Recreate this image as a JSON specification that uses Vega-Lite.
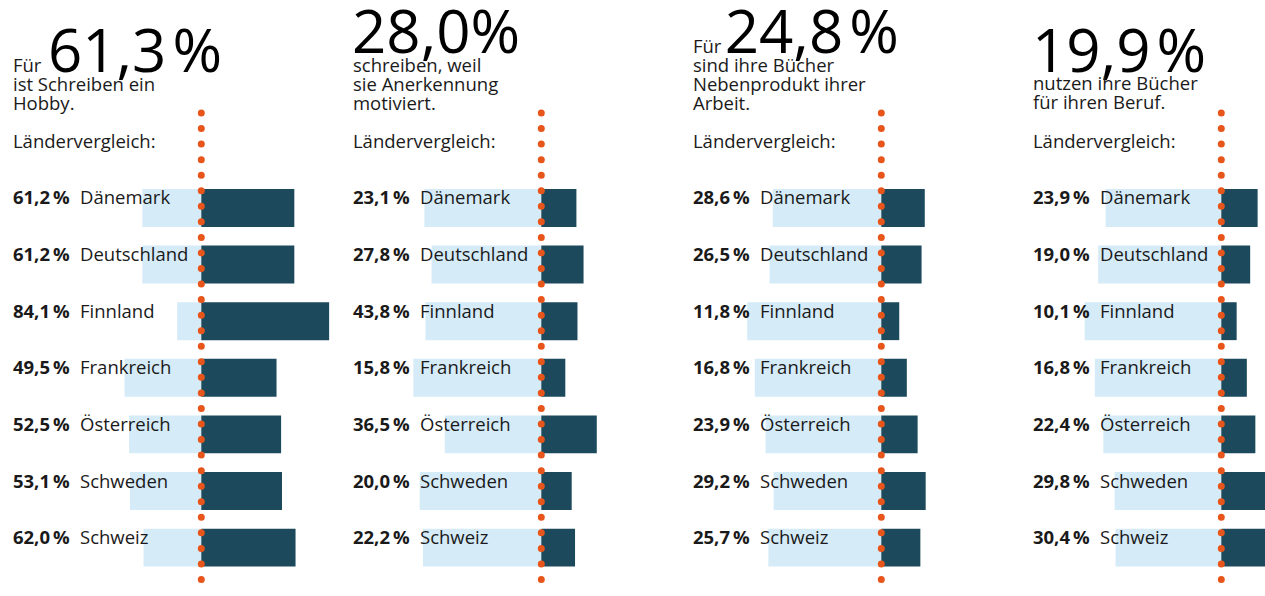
{
  "$schema": "https://vega.github.io/schema/vega-lite/v6.json",
  "background": "#ffffff",
  "padding": 0,
  "spacing": 0,
  "bounds": "flush",
  "config": {"view": {"stroke": null}, "font": "Open Sans"},
  "datasets": {
    "laender": [
      {"frage": "hobby", "land": "Dänemark", "wert": 61.2, "label": "61,2\u2009%"},
      {"frage": "hobby", "land": "Deutschland", "wert": 61.2, "label": "61,2\u2009%"},
      {"frage": "hobby", "land": "Finnland", "wert": 84.1, "label": "84,1\u2009%"},
      {"frage": "hobby", "land": "Frankreich", "wert": 49.5, "label": "49,5\u2009%"},
      {"frage": "hobby", "land": "Österreich", "wert": 52.5, "label": "52,5\u2009%"},
      {"frage": "hobby", "land": "Schweden", "wert": 53.1, "label": "53,1\u2009%"},
      {"frage": "hobby", "land": "Schweiz", "wert": 62.0, "label": "62,0\u2009%"},
      {"frage": "anerkennung", "land": "Dänemark", "wert": 23.1, "label": "23,1\u2009%"},
      {"frage": "anerkennung", "land": "Deutschland", "wert": 27.8, "label": "27,8\u2009%"},
      {"frage": "anerkennung", "land": "Finnland", "wert": 23.8, "label": "43,8\u2009%"},
      {"frage": "anerkennung", "land": "Frankreich", "wert": 15.8, "label": "15,8\u2009%"},
      {"frage": "anerkennung", "land": "Österreich", "wert": 36.5, "label": "36,5\u2009%"},
      {"frage": "anerkennung", "land": "Schweden", "wert": 20.0, "label": "20,0\u2009%"},
      {"frage": "anerkennung", "land": "Schweiz", "wert": 22.2, "label": "22,2\u2009%"},
      {"frage": "nebenprodukt", "land": "Dänemark", "wert": 28.6, "label": "28,6\u2009%"},
      {"frage": "nebenprodukt", "land": "Deutschland", "wert": 26.5, "label": "26,5\u2009%"},
      {"frage": "nebenprodukt", "land": "Finnland", "wert": 11.8, "label": "11,8\u2009%"},
      {"frage": "nebenprodukt", "land": "Frankreich", "wert": 16.8, "label": "16,8\u2009%"},
      {"frage": "nebenprodukt", "land": "Österreich", "wert": 23.9, "label": "23,9\u2009%"},
      {"frage": "nebenprodukt", "land": "Schweden", "wert": 29.2, "label": "29,2\u2009%"},
      {"frage": "nebenprodukt", "land": "Schweiz", "wert": 25.7, "label": "25,7\u2009%"},
      {"frage": "beruf", "land": "Dänemark", "wert": 23.9, "label": "23,9\u2009%"},
      {"frage": "beruf", "land": "Deutschland", "wert": 19.0, "label": "19,0\u2009%"},
      {"frage": "beruf", "land": "Finnland", "wert": 10.1, "label": "10,1\u2009%"},
      {"frage": "beruf", "land": "Frankreich", "wert": 16.8, "label": "16,8\u2009%"},
      {"frage": "beruf", "land": "Österreich", "wert": 22.4, "label": "22,4\u2009%"},
      {"frage": "beruf", "land": "Schweden", "wert": 29.8, "label": "29,8\u2009%"},
      {"frage": "beruf", "land": "Schweiz", "wert": 30.4, "label": "30,4\u2009%"}
    ],
    "kopf": [
      {"frage": "hobby", "zahl": "61,3\u200a%", "zeilen": ["Für", "ist Schreiben ein", "Hobby."], "vergleich": "Ländervergleich:"},
      {"frage": "anerkennung", "zahl": "28,0%", "zeilen": ["schreiben, weil", "sie Anerkennung", "motiviert."], "vergleich": "Ländervergleich:"},
      {"frage": "nebenprodukt", "zahl": "24,8\u200a%", "zeilen": ["Für", "sind ihre Bücher", "Nebenprodukt ihrer", "Arbeit."], "vergleich": "Ländervergleich:"},
      {"frage": "beruf", "zahl": "19,9\u200a%", "zeilen": ["nutzen ihre Bücher", "für ihren Beruf."], "vergleich": "Ländervergleich:"}
    ]
  },
  "hconcat": [
    {
      "width": 340, "height": 596,
      "resolve": {"scale": {"x": "independent", "y": "independent"}},
      "layer": [
        {
          "data": {"name": "laender"},
          "transform": [{"filter": "datum.frage === 'hobby'"}],
          "mark": {"type": "bar", "color": "#d5ebf8", "clip": true},
          "encoding": {
            "x": {"field": "wert", "type": "quantitative", "axis": null, "scale": {"domain": [-32.43, 191.25], "nice": false, "zero": false}},
            "x2": {"datum": 100},
            "y": {"field": "land", "type": "nominal", "sort": null, "axis": null, "scale": {"type": "band", "range": [189, 566.6], "paddingInner": 0.3306, "paddingOuter": 0}}
          }
        },
        {
          "data": {"name": "laender"},
          "transform": [{"filter": "datum.frage === 'hobby'"}],
          "mark": {"type": "bar", "color": "#1c4a5c", "clip": true},
          "encoding": {
            "x": {"field": "wert", "type": "quantitative", "axis": null, "scale": {"domain": [-132.43, 91.25], "nice": false, "zero": false}},
            "x2": {"datum": 0},
            "y": {"field": "land", "type": "nominal", "sort": null, "axis": null, "scale": {"type": "band", "range": [189, 566.6], "paddingInner": 0.3306, "paddingOuter": 0}}
          }
        },
        {
          "data": {"name": "laender"},
          "transform": [{"filter": "datum.frage === 'hobby'"}],
          "mark": {"type": "text", "align": "left", "baseline": "alphabetic", "dy": -3.5, "font": "Open Sans", "fontSize": 18.5, "fontWeight": 700, "color": "#1a1a1a"},
          "encoding": {
            "x": {"datum": -123.9, "type": "quantitative", "axis": null, "scale": {"domain": [-132.43, 91.25], "nice": false, "zero": false}},
            "y": {"field": "land", "type": "nominal", "sort": null, "axis": null, "scale": {"type": "band", "range": [189, 566.6], "paddingInner": 0.3306, "paddingOuter": 0}},
            "text": {"field": "label", "type": "nominal"}
          }
        },
        {
          "data": {"name": "laender"},
          "transform": [{"filter": "datum.frage === 'hobby'"}],
          "mark": {"type": "text", "align": "left", "baseline": "alphabetic", "dy": -3.5, "font": "Open Sans", "fontSize": 18.5, "fontWeight": 400, "color": "#1a1a1a"},
          "encoding": {
            "x": {"datum": -79.8, "type": "quantitative", "axis": null, "scale": {"domain": [-132.43, 91.25], "nice": false, "zero": false}},
            "y": {"field": "land", "type": "nominal", "sort": null, "axis": null, "scale": {"type": "band", "range": [189, 566.6], "paddingInner": 0.3306, "paddingOuter": 0}},
            "text": {"field": "land", "type": "nominal"}
          }
        },
        {
          "data": {"name": "kopf"},
          "transform": [{"filter": "datum.frage === 'hobby'"}],
          "mark": {"type": "text", "align": "left", "baseline": "alphabetic", "font": "Open Sans", "fontSize": 60, "color": "#000000"},
          "encoding": {
            "x": {"datum": -100.9, "type": "quantitative", "axis": null, "scale": {"domain": [-132.43, 91.25], "nice": false, "zero": false}},
            "y": {"datum": -2.066, "type": "quantitative", "axis": null, "scale": {"domain": [-3.338, 7.188], "reverse": true, "nice": false, "zero": false}},
            "text": {"field": "zahl", "type": "nominal"}
          }
        },
        {
          "data": {"name": "kopf"},
          "transform": [{"filter": "datum.frage === 'hobby'"}],
          "mark": {"type": "text", "align": "left", "baseline": "alphabetic", "font": "Open Sans", "fontSize": 18.5, "lineHeight": 19, "color": "#1a1a1a"},
          "encoding": {
            "x": {"datum": -123.9, "type": "quantitative", "axis": null, "scale": {"domain": [-132.43, 91.25], "nice": false, "zero": false}},
            "y": {"datum": -2.066, "type": "quantitative", "axis": null, "scale": {"domain": [-3.338, 7.188], "reverse": true, "nice": false, "zero": false}},
            "text": {"field": "zeilen", "type": "nominal"}
          }
        },
        {
          "data": {"name": "kopf"},
          "transform": [{"filter": "datum.frage === 'hobby'"}],
          "mark": {"type": "text", "align": "left", "baseline": "alphabetic", "font": "Open Sans", "fontSize": 18.5, "color": "#1a1a1a"},
          "encoding": {
            "x": {"datum": -123.9, "type": "quantitative", "axis": null, "scale": {"domain": [-132.43, 91.25], "nice": false, "zero": false}},
            "y": {"datum": -0.724, "type": "quantitative", "axis": null, "scale": {"domain": [-3.338, 7.188], "reverse": true, "nice": false, "zero": false}},
            "text": {"field": "vergleich", "type": "nominal"}
          }
        },
        {
          "data": {"name": "kopf"},
          "transform": [{"filter": "datum.frage === 'hobby'"}],
          "mark": {"type": "rule", "color": "#e8551b", "strokeWidth": 7, "strokeCap": "round", "strokeDash": [0, 15.55]},
          "encoding": {
            "x": {"datum": 0, "type": "quantitative", "axis": null, "scale": {"domain": [-132.43, 91.25], "nice": false, "zero": false}},
            "y": {"datum": -1.342, "type": "quantitative", "axis": null, "scale": {"domain": [-3.338, 7.188], "reverse": true, "nice": false, "zero": false}},
            "y2": {"datum": 7.012}
          }
        }
      ]
    },
    {
      "width": 340, "height": 596,
      "resolve": {"scale": {"x": "independent", "y": "independent"}},
      "layer": [
        {
          "data": {"name": "laender"},
          "transform": [{"filter": "datum.frage === 'anerkennung'"}],
          "mark": {"type": "bar", "color": "#d5ebf8", "clip": true},
          "encoding": {
            "x": {"field": "wert", "type": "quantitative", "axis": null, "scale": {"domain": [-32.43, 191.25], "nice": false, "zero": false}},
            "x2": {"datum": 100},
            "y": {"field": "land", "type": "nominal", "sort": null, "axis": null, "scale": {"type": "band", "range": [189, 566.6], "paddingInner": 0.3306, "paddingOuter": 0}}
          }
        },
        {
          "data": {"name": "laender"},
          "transform": [{"filter": "datum.frage === 'anerkennung'"}],
          "mark": {"type": "bar", "color": "#1c4a5c", "clip": true},
          "encoding": {
            "x": {"field": "wert", "type": "quantitative", "axis": null, "scale": {"domain": [-132.43, 91.25], "nice": false, "zero": false}},
            "x2": {"datum": 0},
            "y": {"field": "land", "type": "nominal", "sort": null, "axis": null, "scale": {"type": "band", "range": [189, 566.6], "paddingInner": 0.3306, "paddingOuter": 0}}
          }
        },
        {
          "data": {"name": "laender"},
          "transform": [{"filter": "datum.frage === 'anerkennung'"}],
          "mark": {"type": "text", "align": "left", "baseline": "alphabetic", "dy": -3.5, "font": "Open Sans", "fontSize": 18.5, "fontWeight": 700, "color": "#1a1a1a"},
          "encoding": {
            "x": {"datum": -123.9, "type": "quantitative", "axis": null, "scale": {"domain": [-132.43, 91.25], "nice": false, "zero": false}},
            "y": {"field": "land", "type": "nominal", "sort": null, "axis": null, "scale": {"type": "band", "range": [189, 566.6], "paddingInner": 0.3306, "paddingOuter": 0}},
            "text": {"field": "label", "type": "nominal"}
          }
        },
        {
          "data": {"name": "laender"},
          "transform": [{"filter": "datum.frage === 'anerkennung'"}],
          "mark": {"type": "text", "align": "left", "baseline": "alphabetic", "dy": -3.5, "font": "Open Sans", "fontSize": 18.5, "fontWeight": 400, "color": "#1a1a1a"},
          "encoding": {
            "x": {"datum": -79.8, "type": "quantitative", "axis": null, "scale": {"domain": [-132.43, 91.25], "nice": false, "zero": false}},
            "y": {"field": "land", "type": "nominal", "sort": null, "axis": null, "scale": {"type": "band", "range": [189, 566.6], "paddingInner": 0.3306, "paddingOuter": 0}},
            "text": {"field": "land", "type": "nominal"}
          }
        },
        {
          "data": {"name": "kopf"},
          "transform": [{"filter": "datum.frage === 'anerkennung'"}],
          "mark": {"type": "text", "align": "left", "baseline": "alphabetic", "font": "Open Sans", "fontSize": 60, "color": "#000000"},
          "encoding": {
            "x": {"datum": -124.5, "type": "quantitative", "axis": null, "scale": {"domain": [-132.43, 91.25], "nice": false, "zero": false}},
            "y": {"datum": -2.407, "type": "quantitative", "axis": null, "scale": {"domain": [-3.338, 7.188], "reverse": true, "nice": false, "zero": false}},
            "text": {"field": "zahl", "type": "nominal"}
          }
        },
        {
          "data": {"name": "kopf"},
          "transform": [{"filter": "datum.frage === 'anerkennung'"}],
          "mark": {"type": "text", "align": "left", "baseline": "alphabetic", "font": "Open Sans", "fontSize": 18.5, "lineHeight": 19, "color": "#1a1a1a"},
          "encoding": {
            "x": {"datum": -123.9, "type": "quantitative", "axis": null, "scale": {"domain": [-132.43, 91.25], "nice": false, "zero": false}},
            "y": {"datum": -2.066, "type": "quantitative", "axis": null, "scale": {"domain": [-3.338, 7.188], "reverse": true, "nice": false, "zero": false}},
            "text": {"field": "zeilen", "type": "nominal"}
          }
        },
        {
          "data": {"name": "kopf"},
          "transform": [{"filter": "datum.frage === 'anerkennung'"}],
          "mark": {"type": "text", "align": "left", "baseline": "alphabetic", "font": "Open Sans", "fontSize": 18.5, "color": "#1a1a1a"},
          "encoding": {
            "x": {"datum": -123.9, "type": "quantitative", "axis": null, "scale": {"domain": [-132.43, 91.25], "nice": false, "zero": false}},
            "y": {"datum": -0.724, "type": "quantitative", "axis": null, "scale": {"domain": [-3.338, 7.188], "reverse": true, "nice": false, "zero": false}},
            "text": {"field": "vergleich", "type": "nominal"}
          }
        },
        {
          "data": {"name": "kopf"},
          "transform": [{"filter": "datum.frage === 'anerkennung'"}],
          "mark": {"type": "rule", "color": "#e8551b", "strokeWidth": 7, "strokeCap": "round", "strokeDash": [0, 15.55]},
          "encoding": {
            "x": {"datum": 0, "type": "quantitative", "axis": null, "scale": {"domain": [-132.43, 91.25], "nice": false, "zero": false}},
            "y": {"datum": -1.342, "type": "quantitative", "axis": null, "scale": {"domain": [-3.338, 7.188], "reverse": true, "nice": false, "zero": false}},
            "y2": {"datum": 7.012}
          }
        }
      ]
    },
    {
      "width": 340, "height": 596,
      "resolve": {"scale": {"x": "independent", "y": "independent"}},
      "layer": [
        {
          "data": {"name": "laender"},
          "transform": [{"filter": "datum.frage === 'nebenprodukt'"}],
          "mark": {"type": "bar", "color": "#d5ebf8", "clip": true},
          "encoding": {
            "x": {"field": "wert", "type": "quantitative", "axis": null, "scale": {"domain": [-32.43, 191.25], "nice": false, "zero": false}},
            "x2": {"datum": 100},
            "y": {"field": "land", "type": "nominal", "sort": null, "axis": null, "scale": {"type": "band", "range": [189, 566.6], "paddingInner": 0.3306, "paddingOuter": 0}}
          }
        },
        {
          "data": {"name": "laender"},
          "transform": [{"filter": "datum.frage === 'nebenprodukt'"}],
          "mark": {"type": "bar", "color": "#1c4a5c", "clip": true},
          "encoding": {
            "x": {"field": "wert", "type": "quantitative", "axis": null, "scale": {"domain": [-132.43, 91.25], "nice": false, "zero": false}},
            "x2": {"datum": 0},
            "y": {"field": "land", "type": "nominal", "sort": null, "axis": null, "scale": {"type": "band", "range": [189, 566.6], "paddingInner": 0.3306, "paddingOuter": 0}}
          }
        },
        {
          "data": {"name": "laender"},
          "transform": [{"filter": "datum.frage === 'nebenprodukt'"}],
          "mark": {"type": "text", "align": "left", "baseline": "alphabetic", "dy": -3.5, "font": "Open Sans", "fontSize": 18.5, "fontWeight": 700, "color": "#1a1a1a"},
          "encoding": {
            "x": {"datum": -123.9, "type": "quantitative", "axis": null, "scale": {"domain": [-132.43, 91.25], "nice": false, "zero": false}},
            "y": {"field": "land", "type": "nominal", "sort": null, "axis": null, "scale": {"type": "band", "range": [189, 566.6], "paddingInner": 0.3306, "paddingOuter": 0}},
            "text": {"field": "label", "type": "nominal"}
          }
        },
        {
          "data": {"name": "laender"},
          "transform": [{"filter": "datum.frage === 'nebenprodukt'"}],
          "mark": {"type": "text", "align": "left", "baseline": "alphabetic", "dy": -3.5, "font": "Open Sans", "fontSize": 18.5, "fontWeight": 400, "color": "#1a1a1a"},
          "encoding": {
            "x": {"datum": -79.8, "type": "quantitative", "axis": null, "scale": {"domain": [-132.43, 91.25], "nice": false, "zero": false}},
            "y": {"field": "land", "type": "nominal", "sort": null, "axis": null, "scale": {"type": "band", "range": [189, 566.6], "paddingInner": 0.3306, "paddingOuter": 0}},
            "text": {"field": "land", "type": "nominal"}
          }
        },
        {
          "data": {"name": "kopf"},
          "transform": [{"filter": "datum.frage === 'nebenprodukt'"}],
          "mark": {"type": "text", "align": "left", "baseline": "alphabetic", "font": "Open Sans", "fontSize": 60, "color": "#000000"},
          "encoding": {
            "x": {"datum": -103, "type": "quantitative", "axis": null, "scale": {"domain": [-132.43, 91.25], "nice": false, "zero": false}},
            "y": {"datum": -2.407, "type": "quantitative", "axis": null, "scale": {"domain": [-3.338, 7.188], "reverse": true, "nice": false, "zero": false}},
            "text": {"field": "zahl", "type": "nominal"}
          }
        },
        {
          "data": {"name": "kopf"},
          "transform": [{"filter": "datum.frage === 'nebenprodukt'"}],
          "mark": {"type": "text", "align": "left", "baseline": "alphabetic", "font": "Open Sans", "fontSize": 18.5, "lineHeight": 19, "color": "#1a1a1a"},
          "encoding": {
            "x": {"datum": -123.9, "type": "quantitative", "axis": null, "scale": {"domain": [-132.43, 91.25], "nice": false, "zero": false}},
            "y": {"datum": -2.402, "type": "quantitative", "axis": null, "scale": {"domain": [-3.338, 7.188], "reverse": true, "nice": false, "zero": false}},
            "text": {"field": "zeilen", "type": "nominal"}
          }
        },
        {
          "data": {"name": "kopf"},
          "transform": [{"filter": "datum.frage === 'nebenprodukt'"}],
          "mark": {"type": "text", "align": "left", "baseline": "alphabetic", "font": "Open Sans", "fontSize": 18.5, "color": "#1a1a1a"},
          "encoding": {
            "x": {"datum": -123.9, "type": "quantitative", "axis": null, "scale": {"domain": [-132.43, 91.25], "nice": false, "zero": false}},
            "y": {"datum": -0.724, "type": "quantitative", "axis": null, "scale": {"domain": [-3.338, 7.188], "reverse": true, "nice": false, "zero": false}},
            "text": {"field": "vergleich", "type": "nominal"}
          }
        },
        {
          "data": {"name": "kopf"},
          "transform": [{"filter": "datum.frage === 'nebenprodukt'"}],
          "mark": {"type": "rule", "color": "#e8551b", "strokeWidth": 7, "strokeCap": "round", "strokeDash": [0, 15.55]},
          "encoding": {
            "x": {"datum": 0, "type": "quantitative", "axis": null, "scale": {"domain": [-132.43, 91.25], "nice": false, "zero": false}},
            "y": {"datum": -1.342, "type": "quantitative", "axis": null, "scale": {"domain": [-3.338, 7.188], "reverse": true, "nice": false, "zero": false}},
            "y2": {"datum": 7.012}
          }
        }
      ]
    },
    {
      "width": 245, "height": 596,
      "resolve": {"scale": {"x": "independent", "y": "independent"}},
      "layer": [
        {
          "data": {"name": "laender"},
          "transform": [{"filter": "datum.frage === 'beruf'"}],
          "mark": {"type": "bar", "color": "#d5ebf8", "clip": true},
          "encoding": {
            "x": {"field": "wert", "type": "quantitative", "axis": null, "scale": {"domain": [-32.43, 128.75], "nice": false, "zero": false}},
            "x2": {"datum": 100},
            "y": {"field": "land", "type": "nominal", "sort": null, "axis": null, "scale": {"type": "band", "range": [189, 566.6], "paddingInner": 0.3306, "paddingOuter": 0}}
          }
        },
        {
          "data": {"name": "laender"},
          "transform": [{"filter": "datum.frage === 'beruf'"}],
          "mark": {"type": "bar", "color": "#1c4a5c", "clip": true},
          "encoding": {
            "x": {"field": "wert", "type": "quantitative", "axis": null, "scale": {"domain": [-132.43, 28.75], "nice": false, "zero": false}},
            "x2": {"datum": 0},
            "y": {"field": "land", "type": "nominal", "sort": null, "axis": null, "scale": {"type": "band", "range": [189, 566.6], "paddingInner": 0.3306, "paddingOuter": 0}}
          }
        },
        {
          "data": {"name": "laender"},
          "transform": [{"filter": "datum.frage === 'beruf'"}],
          "mark": {"type": "text", "align": "left", "baseline": "alphabetic", "dy": -3.5, "font": "Open Sans", "fontSize": 18.5, "fontWeight": 700, "color": "#1a1a1a"},
          "encoding": {
            "x": {"datum": -123.9, "type": "quantitative", "axis": null, "scale": {"domain": [-132.43, 28.75], "nice": false, "zero": false}},
            "y": {"field": "land", "type": "nominal", "sort": null, "axis": null, "scale": {"type": "band", "range": [189, 566.6], "paddingInner": 0.3306, "paddingOuter": 0}},
            "text": {"field": "label", "type": "nominal"}
          }
        },
        {
          "data": {"name": "laender"},
          "transform": [{"filter": "datum.frage === 'beruf'"}],
          "mark": {"type": "text", "align": "left", "baseline": "alphabetic", "dy": -3.5, "font": "Open Sans", "fontSize": 18.5, "fontWeight": 400, "color": "#1a1a1a"},
          "encoding": {
            "x": {"datum": -79.8, "type": "quantitative", "axis": null, "scale": {"domain": [-132.43, 28.75], "nice": false, "zero": false}},
            "y": {"field": "land", "type": "nominal", "sort": null, "axis": null, "scale": {"type": "band", "range": [189, 566.6], "paddingInner": 0.3306, "paddingOuter": 0}},
            "text": {"field": "land", "type": "nominal"}
          }
        },
        {
          "data": {"name": "kopf"},
          "transform": [{"filter": "datum.frage === 'beruf'"}],
          "mark": {"type": "text", "align": "left", "baseline": "alphabetic", "font": "Open Sans", "fontSize": 60, "color": "#000000"},
          "encoding": {
            "x": {"datum": -124.5, "type": "quantitative", "axis": null, "scale": {"domain": [-132.43, 28.75], "nice": false, "zero": false}},
            "y": {"datum": -2.066, "type": "quantitative", "axis": null, "scale": {"domain": [-3.338, 7.188], "reverse": true, "nice": false, "zero": false}},
            "text": {"field": "zahl", "type": "nominal"}
          }
        },
        {
          "data": {"name": "kopf"},
          "transform": [{"filter": "datum.frage === 'beruf'"}],
          "mark": {"type": "text", "align": "left", "baseline": "alphabetic", "font": "Open Sans", "fontSize": 18.5, "lineHeight": 19, "color": "#1a1a1a"},
          "encoding": {
            "x": {"datum": -123.9, "type": "quantitative", "axis": null, "scale": {"domain": [-132.43, 28.75], "nice": false, "zero": false}},
            "y": {"datum": -1.748, "type": "quantitative", "axis": null, "scale": {"domain": [-3.338, 7.188], "reverse": true, "nice": false, "zero": false}},
            "text": {"field": "zeilen", "type": "nominal"}
          }
        },
        {
          "data": {"name": "kopf"},
          "transform": [{"filter": "datum.frage === 'beruf'"}],
          "mark": {"type": "text", "align": "left", "baseline": "alphabetic", "font": "Open Sans", "fontSize": 18.5, "color": "#1a1a1a"},
          "encoding": {
            "x": {"datum": -123.9, "type": "quantitative", "axis": null, "scale": {"domain": [-132.43, 28.75], "nice": false, "zero": false}},
            "y": {"datum": -0.724, "type": "quantitative", "axis": null, "scale": {"domain": [-3.338, 7.188], "reverse": true, "nice": false, "zero": false}},
            "text": {"field": "vergleich", "type": "nominal"}
          }
        },
        {
          "data": {"name": "kopf"},
          "transform": [{"filter": "datum.frage === 'beruf'"}],
          "mark": {"type": "rule", "color": "#e8551b", "strokeWidth": 7, "strokeCap": "round", "strokeDash": [0, 15.55]},
          "encoding": {
            "x": {"datum": 0, "type": "quantitative", "axis": null, "scale": {"domain": [-132.43, 28.75], "nice": false, "zero": false}},
            "y": {"datum": -1.342, "type": "quantitative", "axis": null, "scale": {"domain": [-3.338, 7.188], "reverse": true, "nice": false, "zero": false}},
            "y2": {"datum": 7.012}
          }
        }
      ]
    }
  ]
}
